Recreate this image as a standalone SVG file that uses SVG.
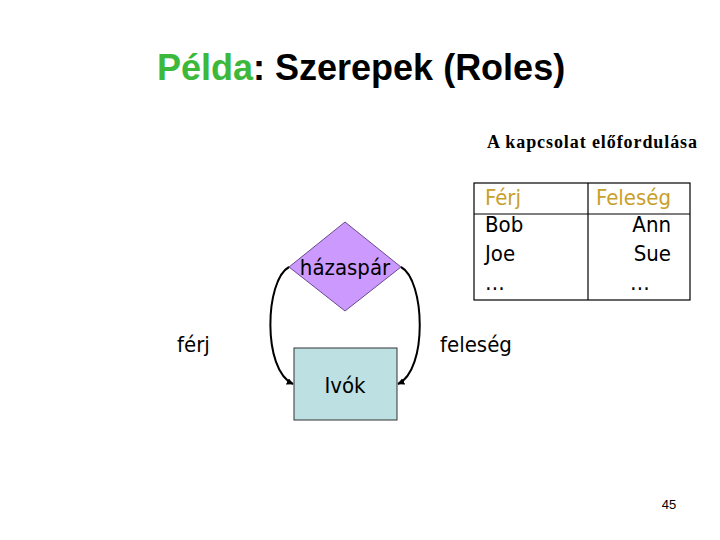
<svg xmlns="http://www.w3.org/2000/svg" width="720" height="540" viewBox="0 0 720 540">
<defs>
<style>
.t{font-family:"Liberation Sans",Arial,sans-serif;font-weight:bold;font-size:36px}
.s{font-family:"DejaVu Sans Condensed","DejaVu Sans",sans-serif;font-stretch:condensed;font-size:22px;fill:#000}
.h{fill:#c8a02a}
.ln{stroke:#000;stroke-width:1.2;fill:none}
.con{stroke:#000;stroke-width:2;fill:none;marker-end:url(#ah)}
</style>
<marker id="ah" viewBox="0 0 10 10" refX="9" refY="5" markerWidth="3.5" markerHeight="3.5" orient="auto" markerUnits="strokeWidth">
<path d="M0,0 L10,5 L0,10 z" fill="#000"/>
</marker>
</defs>
<rect width="720" height="540" fill="#fff"/>
<text class="t" x="157" y="80"><tspan fill="#3cb93c">Példa</tspan>: Szerepek (Roles)</text>
<text x="487" y="148" font-family="'Liberation Serif','Times New Roman',serif" font-weight="bold" font-size="18" textLength="210" lengthAdjust="spacing">A kapcsolat előfordulása</text>
<g id="table">
<rect class="ln" x="474" y="183" width="216" height="117"/>
<line class="ln" x1="588" y1="183" x2="588" y2="300"/>
<line class="ln" x1="474" y1="214" x2="690" y2="214"/>
<text class="s h" x="485" y="205">Férj</text>
<text class="s" x="485" y="232">Bob</text>
<text class="s" x="485" y="261">Joe</text>
<text class="s" x="485" y="290">…</text>
<text class="s h" x="596" y="205">Feleség</text>
<text class="s" x="671" y="232" text-anchor="end">Ann</text>
<text class="s" x="671" y="261" text-anchor="end">Sue</text>
<text class="s" x="630" y="290">…</text>
</g>
<g id="connectors">
<path class="con" d="M289,267 C265,280 262,370 293,384"/>
<path class="con" d="M401,267 C425,280 428,370 398,384"/>
</g>
<g id="hazaspar">
<polygon points="345,222 401,267 345,311 289,267" fill="#cc99ff" stroke="#6a4a8a" stroke-width="1"/>
<text class="s" x="345" y="275" text-anchor="middle" font-size="19">házaspár</text>
</g>
<g id="ivok">
<rect x="294" y="348" width="103" height="72" fill="#bde0e2" stroke="#333" stroke-width="1"/>
<text class="s" x="345" y="393" text-anchor="middle" font-size="24">Ivók</text>
</g>
<text class="s" x="177" y="352">férj</text>
<text class="s" x="440" y="352">feleség</text>
<text x="669" y="509" text-anchor="middle" font-family="'Liberation Sans',Arial,sans-serif" font-size="13">45</text>
</svg>
